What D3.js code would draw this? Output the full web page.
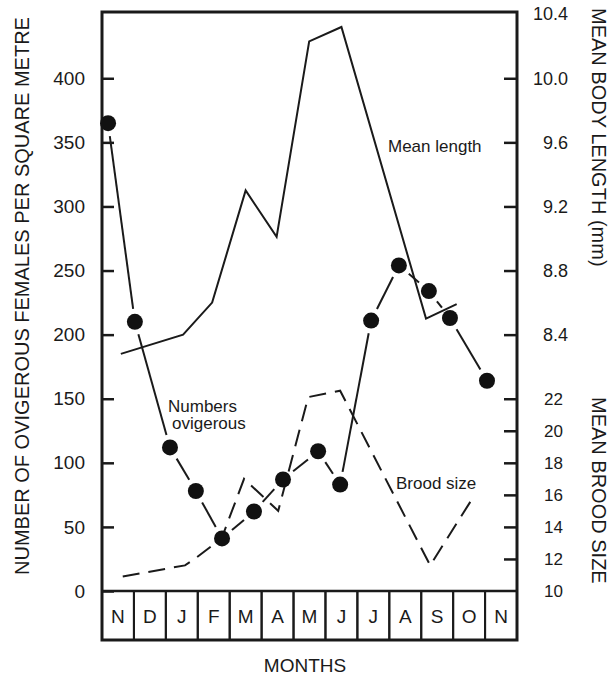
<!DOCTYPE html>
<html>
<head>
<meta charset="utf-8">
<script src="https://cdn.jsdelivr.net/npm/d3@7"></script>
<style>
  body { margin: 0; background: #fff; }
  text { font-family: "Liberation Sans", Arial, sans-serif; fill: #1a1a1a; }
</style>
</head>
<body>
<div class="chart"></div>
<script>

// months along the bottom (Nov to Nov)
var months = ["N", "D", "J", "F", "M", "A", "M", "J", "J", "A", "S", "O", "N"];

// numbers ovigerous (left axis), time in months from start of Nov
var numbersTime = [0.19, 1.03, 2.13, 2.94, 3.76, 4.76, 5.67, 6.77, 7.46, 8.43, 9.30, 10.24, 10.90, 12.06];
var numbersOvigerous = [365, 210, 112, 78, 41, 62, 87, 109, 83, 211, 254, 234, 213, 164];

// mean body length in mm (right axis, top)
var lengthTime = [0.59, 2.54, 3.45, 4.50, 5.47, 6.49, 7.50, 10.15, 11.11];
var meanLength = [8.28, 8.40, 8.60, 9.30, 9.01, 10.23, 10.32, 8.50, 8.59];

// mean brood size (right axis, bottom)
var broodTime = [0.65, 2.60, 2.97, 3.75, 4.45, 5.52, 6.46, 7.46, 10.28, 11.58];
var broodSize = [10.9, 11.6, 12.1, 13.3, 17.0, 15.0, 22.1, 22.5, 11.6, 15.7];

var numberTicks = [0, 50, 100, 150, 200, 250, 300, 350, 400];
var lengthTicks = [8.4, 8.8, 9.2, 9.6, 10.0, 10.4];
var broodTicks = [10, 12, 14, 16, 18, 20, 22];

var width = 611, height = 675;
var plotLeft = 102, plotRight = 517, plotTop = 12, plotBottom = 591, boxBottom = 640;

var svg = d3.select(".chart").append("svg")
    .attr("width", width)
    .attr("height", height);

var x = d3.scaleLinear().domain([0, months.length]).range([plotLeft, plotRight]);
var yNum = d3.scaleLinear().domain([0, 451.7]).range([plotBottom, plotTop]);
// right scales share the left tick grid
var yLen = d3.scaleLinear().domain([8.4, 10.0]).range([yNum(200), yNum(400)]);
var yBrood = d3.scaleLinear().domain([10, 22]).range([yNum(0), yNum(150)]);

// left axis
var axL = svg.append("g")
    .attr("transform", "translate(" + plotLeft + ",0)")
    .call(d3.axisLeft(yNum).tickValues(numberTicks).tickSize(-12).tickPadding(17).tickFormat(d3.format("d")));
axL.select(".domain").remove();
axL.selectAll("line").attr("stroke", "#1a1a1a").attr("stroke-width", 2.5);
axL.selectAll("text").attr("font-size", 19).attr("fill", "#1a1a1a");

// right axis - length
var axR = svg.append("g")
    .attr("transform", "translate(" + plotRight + ",0)")
    .call(d3.axisRight(yLen).tickValues(lengthTicks).tickSize(-13).tickFormat(d3.format(".1f")));
axR.select(".domain").remove();
axR.selectAll(".tick").filter(d => d === 10.4).select("line").remove();
axR.selectAll("line").attr("stroke", "#1a1a1a").attr("stroke-width", 2.5);
axR.selectAll("text").attr("font-size", 18).attr("fill", "#1a1a1a")
    .attr("text-anchor", "end").attr("x", 51);

// right axis - brood
var axB = svg.append("g")
    .attr("transform", "translate(" + plotRight + ",0)")
    .call(d3.axisRight(yBrood).tickValues(broodTicks).tickSize(-13).tickFormat(d3.format("d")));
axB.select(".domain").remove();
axB.selectAll(".tick").filter(d => d === 10).select("line").remove();
axB.selectAll("line").attr("stroke", "#1a1a1a").attr("stroke-width", 2.5);
axB.selectAll("text").attr("font-size", 17).attr("fill", "#1a1a1a")
    .attr("text-anchor", "end").attr("x", 46);

// month boxes
svg.append("g")
    .selectAll("rect")
    .data(months)
    .enter()
    .append("rect")
    .attr("x", (d, i) => x(i))
    .attr("y", plotBottom)
    .attr("width", x(1) - x(0))
    .attr("height", boxBottom - plotBottom)
    .attr("fill", "none")
    .attr("stroke", "#1a1a1a")
    .attr("stroke-width", 2);

svg.append("g")
    .selectAll("text")
    .data(months)
    .enter()
    .append("text")
    .attr("x", (d, i) => x(i + 0.5))
    .attr("y", (plotBottom + boxBottom) / 2 + 1)
    .attr("text-anchor", "middle")
    .attr("dominant-baseline", "central")
    .attr("font-size", 19)
    .text(d => d);

// frame + outer box
svg.append("rect")
    .attr("x", plotLeft).attr("y", plotTop)
    .attr("width", plotRight - plotLeft).attr("height", boxBottom - plotTop)
    .attr("fill", "none").attr("stroke", "#1a1a1a").attr("stroke-width", 3);
svg.append("line")
    .attr("x1", plotLeft).attr("x2", plotRight).attr("y1", plotBottom).attr("y2", plotBottom)
    .attr("stroke", "#1a1a1a").attr("stroke-width", 2.5);

// mean length (solid)
var lenData = lengthTime.map((t, i) => [t, meanLength[i]]);
svg.append("path")
    .datum(lenData)
    .attr("fill", "none")
    .attr("stroke", "#1a1a1a")
    .attr("stroke-width", 2)
    .attr("d", d3.line().x(d => x(d[0])).y(d => yLen(d[1])));

// brood size (dashed)
var broodData = broodTime.map((t, i) => [t, broodSize[i]]);
svg.append("path")
    .datum(broodData)
    .attr("fill", "none")
    .attr("stroke", "#1a1a1a")
    .attr("stroke-width", 2)
    .attr("stroke-dasharray", "17,9")
    .attr("d", d3.line().x(d => x(d[0])).y(d => yBrood(d[1])));

// numbers ovigerous: segments stop short of the dots
var numPts = numbersTime.map((t, i) => [x(t), yNum(numbersOvigerous[i])]);
var gap = 13;
var segs = d3.pairs(numPts).map(p => {
    var dx = p[1][0] - p[0][0], dy = p[1][1] - p[0][1];
    var len = Math.sqrt(dx * dx + dy * dy);
    var ux = dx / len, uy = dy / len;
    return [p[0][0] + ux * gap, p[0][1] + uy * gap, p[1][0] - ux * gap, p[1][1] - uy * gap];
});
svg.append("g")
    .selectAll("line")
    .data(segs)
    .enter()
    .append("line")
    .attr("x1", d => d[0]).attr("y1", d => d[1])
    .attr("x2", d => d[2]).attr("y2", d => d[3])
    .attr("stroke", "#1a1a1a")
    .attr("stroke-width", 2);

svg.append("g")
    .selectAll("circle")
    .data(numPts)
    .enter()
    .append("circle")
    .attr("cx", d => d[0])
    .attr("cy", d => d[1])
    .attr("r", 8)
    .attr("fill", "#111");

// series labels
svg.append("text").attr("x", 388).attr("y", 152).attr("font-size", 17).text("Mean length");
svg.append("text").attr("x", 168).attr("y", 412).attr("font-size", 17).text("Numbers");
svg.append("text").attr("x", 172).attr("y", 429).attr("font-size", 17).text("ovigerous");
svg.append("text").attr("x", 396).attr("y", 489).attr("font-size", 17).text("Brood size");

// axis titles
svg.append("text")
    .attr("transform", "translate(22,296) rotate(-90)")
    .attr("text-anchor", "middle")
    .attr("dominant-baseline", "central")
    .attr("font-size", 20)
    .text("NUMBER OF OVIGEROUS FEMALES PER SQUARE METRE");

svg.append("text")
    .attr("transform", "translate(599,8) rotate(90)")
    .attr("text-anchor", "start")
    .attr("dominant-baseline", "central")
    .attr("font-size", 20)
    .text("MEAN BODY LENGTH (mm)");

svg.append("text")
    .attr("transform", "translate(599,397) rotate(90)")
    .attr("text-anchor", "start")
    .attr("dominant-baseline", "central")
    .attr("font-size", 20)
    .text("MEAN BROOD SIZE");

svg.append("text")
    .attr("x", 305)
    .attr("y", 672)
    .attr("text-anchor", "middle")
    .attr("font-size", 19)
    .text("MONTHS");

</script>
</body>
</html>
